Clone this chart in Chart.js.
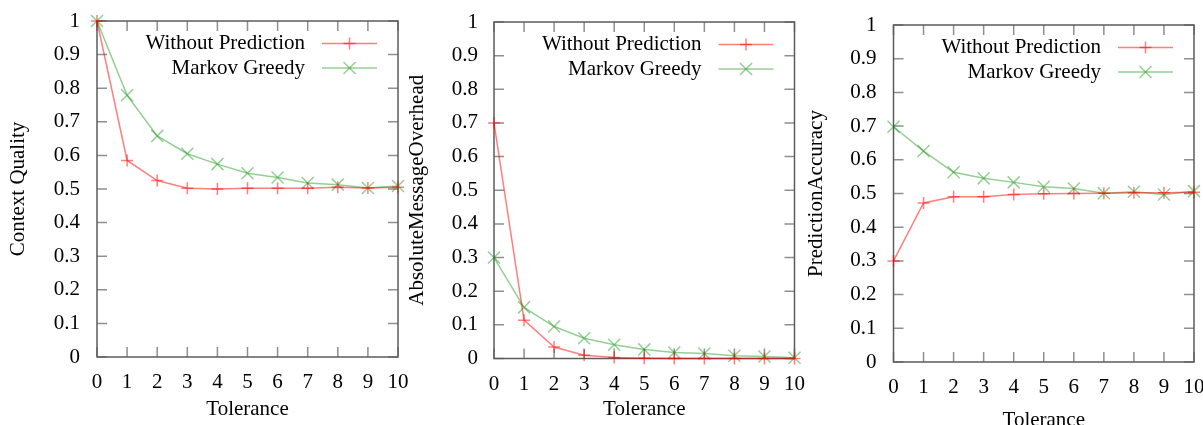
<!DOCTYPE html>
<html>
<head>
<meta charset="utf-8">
<script src="https://cdn.jsdelivr.net/npm/chart.js@4.4.1/dist/chart.umd.min.js"></script>
<style>
  html, body { margin: 0; padding: 0; background: #fff; overflow: hidden; width: 1203px; height: 425px; }
  canvas { position: absolute; top: 0; }
</style>
</head>
<body>
<canvas id="quality" width="420" height="440" style="left:0px"></canvas>
<canvas id="overhead" width="420" height="440" style="left:400px"></canvas>
<canvas id="accuracy" width="410" height="440" style="left:800px"></canvas>
<script>
// Tolerance values on the x axis, shared by all three plots
const tolerance = [0, 1, 2, 3, 4, 5, 6, 7, 8, 9, 10];
const yTickLabels = ['0', '0.1', '0.2', '0.3', '0.4', '0.5', '0.6', '0.7', '0.8', '0.9', '1'];
const seriesNames = ['Without Prediction', 'Markov Greedy'];
const xTitle = 'Tolerance';

// Context quality
const qualityWithout = [1.0, 0.585, 0.525, 0.502, 0.500, 0.502, 0.502, 0.502, 0.505, 0.503, 0.505];
const qualityMarkov  = [1.0, 0.779, 0.658, 0.605, 0.574, 0.547, 0.534, 0.518, 0.513, 0.503, 0.509];

// Absolute message overhead
const overheadWithout = [0.700, 0.114, 0.034, 0.010, 0.003, 0.001, 0.0, 0.0, 0.0, 0.0, 0.0];
const overheadMarkov  = [0.300, 0.152, 0.095, 0.060, 0.041, 0.027, 0.018, 0.015, 0.008, 0.006, 0.002];

// Prediction accuracy
const accuracyWithout = [0.300, 0.472, 0.490, 0.490, 0.497, 0.499, 0.500, 0.501, 0.502, 0.502, 0.504];
const accuracyMarkov  = [0.698, 0.626, 0.563, 0.545, 0.533, 0.520, 0.515, 0.501, 0.505, 0.497, 0.507];

const FONT = { family: "'Liberation Serif', 'Times New Roman', serif", size: 21 };
const RED = 'rgba(255, 0, 0, 0.5)';
const GREEN = 'rgba(0, 140, 0, 0.42)';
const NONE = 'rgba(0, 0, 0, 0)';

Chart.defaults.font.family = FONT.family;
Chart.defaults.font.size = FONT.size;
Chart.defaults.color = '#000';

// Draws a '+' or 'x' marker
function marker(ctx, style, x, y, r) {
  ctx.beginPath();
  if (style === 'cross') {
    ctx.moveTo(x - r, y); ctx.lineTo(x + r, y);
    ctx.moveTo(x, y - r); ctx.lineTo(x, y + r);
  } else {
    const d = r * Math.SQRT1_2;
    ctx.moveTo(x - d, y - d); ctx.lineTo(x + d, y + d);
    ctx.moveTo(x - d, y + d); ctx.lineTo(x + d, y - d);
  }
  ctx.stroke();
}

// Closed frame with inward tick marks on all four sides, plus a key in the upper right
const framePlugin = {
  id: 'gnuFrame',
  beforeDatasetsDraw(chart) {
    const { ctx, chartArea: a, scales: { x, y } } = chart;
    const L = 10;
    ctx.save();
    ctx.strokeStyle = '#8f8f8f';
    ctx.lineWidth = 1.5;
    ctx.beginPath();
    x.ticks.forEach((t, i) => {
      const px = x.getPixelForTick(i);
      ctx.moveTo(px, a.bottom); ctx.lineTo(px, a.bottom - L);
      ctx.moveTo(px, a.top); ctx.lineTo(px, a.top + L);
    });
    y.ticks.forEach((t, i) => {
      const py = y.getPixelForTick(i);
      ctx.moveTo(a.left, py); ctx.lineTo(a.left + L, py);
      ctx.moveTo(a.right, py); ctx.lineTo(a.right - L, py);
    });
    ctx.stroke();
    ctx.strokeStyle = '#5c5c5c';
    ctx.lineWidth = 1.5;
    ctx.strokeRect(a.left, a.top, a.right - a.left, a.bottom - a.top);
    ctx.restore();
  },
  afterDatasetsDraw(chart) {
    const { ctx, chartArea: a } = chart;
    ctx.save();
    ctx.font = FONT.size + 'px ' + FONT.family;
    ctx.textAlign = 'right';
    ctx.textBaseline = 'middle';
    chart.data.datasets.forEach((ds, i) => {
      const yy = a.top + 22.5 + i * 24.5;
      ctx.fillStyle = '#000';
      ctx.fillText(ds.label, a.right - 93, yy);
      ctx.strokeStyle = ds.borderColor;
      ctx.lineWidth = 1.5;
      ctx.beginPath();
      ctx.moveTo(a.right - 76, yy); ctx.lineTo(a.right - 21, yy);
      ctx.stroke();
      marker(ctx, ds.pointStyle, a.right - 48.5, yy, ds.pointRadius);
    });
    ctx.restore();
  }
};

function makeChart(id, yTitle, without, markov, geom) {
  return new Chart(document.getElementById(id), {
    type: 'line',
    data: {
      labels: tolerance.map(String),
      datasets: [
        { label: seriesNames[0], data: without, borderColor: RED, backgroundColor: RED,
          borderWidth: 1.5, pointStyle: 'cross', pointRadius: 6, pointBorderWidth: 1.5,
          pointBorderColor: RED, tension: 0, clip: false },
        { label: seriesNames[1], data: markov, borderColor: GREEN, backgroundColor: GREEN,
          borderWidth: 1.5, pointStyle: 'crossRot', pointRadius: 8.5, pointBorderWidth: 1.5,
          pointBorderColor: GREEN, tension: 0, clip: false }
      ]
    },
    options: {
      responsive: false,
      animation: false,
      events: [],
      layout: { padding: { left: 0, top: geom.top, right: geom.right, bottom: 0 } },
      plugins: { legend: { display: false }, tooltip: { enabled: false } },
      scales: {
        x: {
          type: 'category',
          offset: false,
          grid: { display: true, drawOnChartArea: false, drawTicks: true, tickLength: geom.xGap, tickColor: NONE, color: NONE },
          border: { display: false },
          ticks: { autoSkip: false, maxRotation: 0, padding: 0, color: '#000' },
          title: { display: true, text: xTitle, color: '#000', padding: { top: 0, bottom: geom.xTitlePad } },
          afterFit(s) { s.height = geom.xH; }
        },
        y: {
          type: 'linear',
          min: 0, max: 1,
          grid: { display: true, drawOnChartArea: false, drawTicks: true, tickLength: geom.yGap, tickColor: NONE, color: NONE },
          border: { display: false },
          afterBuildTicks(s) { s.ticks = yTickLabels.map(v => ({ value: parseFloat(v) })); },
          ticks: { padding: 0, color: '#000', callback: (v, i) => yTickLabels[i] },
          title: { display: true, text: yTitle, color: '#000', padding: { top: geom.yTitlePad, bottom: 0 } },
          afterFit(s) { s.width = geom.yW; }
        }
      }
    },
    plugins: [framePlugin]
  });
}

makeChart('quality', 'Context Quality', qualityWithout, qualityMarkov,
  { top: 21, right: 22, yW: 97, xH: 83, xGap: 13, xTitlePad: 18, yGap: 17, yTitlePad: 6 });
makeChart('overhead', 'AbsoluteMessageOverhead', overheadWithout, overheadMarkov,
  { top: 22, right: 25.5, yW: 94, xH: 81.5, xGap: 13.5, xTitlePad: 18, yGap: 16, yTitlePad: 4.5 });
makeChart('accuracy', 'PredictionAccuracy', accuracyWithout, accuracyMarkov,
  { top: 25, right: 16, yW: 93.5, xH: 78, xGap: 13, xTitlePad: 7, yGap: 17, yTitlePad: 3.5 });
</script>
</body>
</html>
